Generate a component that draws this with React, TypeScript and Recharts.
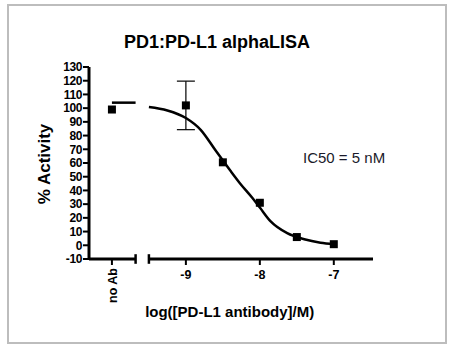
import {
  ComposedChart,
  ErrorBar,
  Line,
  ReferenceLine,
  Scatter,
  XAxis,
  YAxis,
} from "recharts";

const FONT = "'Liberation Sans', Arial, sans-serif";

// measured points: log[antibody] vs % activity
const pointLogConc = [-9, -8.5, -8, -7.5, -7];
const pointActivity = [102, 60.5, 31, 6, 0.8];
const pointSd = [17.7, null, null, null, null];

// "no Ab" control, drawn at a fake x position left of the axis break
const noAbX = -10;
const noAbActivity = 99;
const noAbTop = 104;

// fitted curve
const fitLogConc = [-9.5, -9.25, -9.0, -8.8, -8.6, -8.4, -8.27, -8.1, -8.0, -7.85, -7.63, -7.4, -7.18, -7.0];
const fitActivity = [100.8, 98.3, 92.8, 84.2, 69.3, 54.5, 45.3, 34.5, 27.5, 17.2, 8.8, 4.4, 1.9, 0.8];

const xDomain: [number, number] = [-10.31, -6.47];
const xTicks = [-10, -9, -8, -7];
const yTicks = [-10, 0, 10, 20, 30, 40, 50, 60, 70, 80, 90, 100, 110, 120, 130];
const axisSegments = [
  [-10.31, -9.68],
  [-9.5, -6.47],
];

const points = pointLogConc.map((x, i) => ({ x, y: pointActivity[i], err: pointSd[i] }));
const plainPoints = points.filter((p) => p.err == null);
const errPoints = points.filter((p) => p.err != null);
const noAbPoints = [{ x: noAbX, y: noAbActivity }];
const plateau = [
  { x: noAbX, y: noAbTop },
  { x: axisSegments[0][1], y: noAbTop },
];
const fit = fitLogConc.map((x, i) => ({ x, y: fitActivity[i] }));

const Square = (props: any) => (
  <rect x={props.cx - 4} y={props.cy - 4} width={8} height={8} fill="#000" />
);

const XTick = (props: any) => {
  const { x, y, payload } = props;
  if (payload.value === noAbX) {
    return (
      <text
        transform={`translate(${x + 5.5},${y + 1}) rotate(-90)`}
        textAnchor="end"
        fontSize={12.5}
        fontWeight="bold"
        fontFamily={FONT}
        fill="#000"
      >
        no Ab
      </text>
    );
  }
  return (
    <text x={x} y={y + 12} textAnchor="middle" fontSize={12.5} fontWeight="bold" fontFamily={FONT} fill="#000">
      {payload.value}
    </text>
  );
};

const YTick = (props: any) => {
  const { x, y, payload } = props;
  return (
    <text
      x={x + 1}
      y={y + 4.3}
      textAnchor="end"
      fontSize={12}
      fontWeight="bold"
      fontFamily={FONT}
      fill="#000"
      letterSpacing={-0.4}
    >
      {payload.value}
    </text>
  );
};

export default function App() {
  return (
    <div style={{ position: "absolute", left: 0, top: 0, width: 453, height: 352, background: "#fff" }}>
      <div
        style={{
          position: "absolute",
          left: 7,
          top: 4,
          width: 440,
          height: 340,
          boxSizing: "border-box",
          border: "2px solid #bdbdbd",
        }}
      />
      <div style={{ position: "absolute", left: 0, top: 0 }}>
        <ComposedChart width={453} height={352} margin={{ top: 67, right: 80, bottom: 63, left: 29 }}>
          <XAxis
            type="number"
            dataKey="x"
            domain={xDomain}
            ticks={xTicks}
            allowDataOverflow
            axisLine={false}
            tickLine={{ stroke: "#000", strokeWidth: 2 }}
            tickSize={6}
            tickMargin={2}
            height={30}
            tick={<XTick />}
          />
          <YAxis
            type="number"
            dataKey="y"
            domain={[-10, 130]}
            ticks={yTicks}
            interval={0}
            width={60}
            axisLine={{ stroke: "#000", strokeWidth: 3 }}
            tickLine={{ stroke: "#000", strokeWidth: 2 }}
            tickSize={6}
            tick={<YTick />}
          />
          {axisSegments.map(([a, b], i) => (
            <ReferenceLine
              key={`seg${i}`}
              segment={[
                { x: a, y: -10 },
                { x: b, y: -10 },
              ]}
              stroke="#000"
              strokeWidth={3}
              ifOverflow="visible"
            />
          ))}
          {[axisSegments[0][1], axisSegments[1][0]].map((x, i) => (
            <ReferenceLine
              key={`cap${i}`}
              segment={[
                { x, y: -13.5 },
                { x, y: -6.5 },
              ]}
              stroke="#000"
              strokeWidth={2.5}
              ifOverflow="visible"
            />
          ))}
          <Line data={plateau} dataKey="y" type="linear" stroke="#000" strokeWidth={2.5} dot={false} isAnimationActive={false} />
          <Line data={fit} dataKey="y" type="monotone" stroke="#000" strokeWidth={2.5} dot={false} isAnimationActive={false} />
          <Scatter data={errPoints} dataKey="y" shape={<Square />} isAnimationActive={false}>
            <ErrorBar dataKey="err" direction="y" width={9} stroke="#000" strokeWidth={1.2} />
          </Scatter>
          <Scatter data={plainPoints} dataKey="y" shape={<Square />} isAnimationActive={false} />
          <Scatter data={noAbPoints} dataKey="y" shape={<Square />} isAnimationActive={false} />
        </ComposedChart>
      </div>
      <svg width={453} height={352} style={{ position: "absolute", left: 0, top: 0, pointerEvents: "none" }}>
        <text x={217} y={47.5} textAnchor="middle" fontSize={18} fontWeight="bold" fontFamily={FONT} fill="#000">
          PD1:PD-L1 alphaLISA
        </text>
        <text
          transform="translate(49.5,164) rotate(-90)"
          textAnchor="middle"
          fontSize={17}
          fontWeight="bold"
          fontFamily={FONT}
          fill="#000"
        >
          % Activity
        </text>
        <text x={229.7} y={317} textAnchor="middle" fontSize={15} fontWeight="bold" fontFamily={FONT} fill="#000">
          log([PD-L1 antibody]/M)
        </text>
        <text x={303} y={163} fontSize={15} fontFamily={FONT} fill="#1a1a2a">
          IC50 = 5 nM
        </text>
      </svg>
    </div>
  );
}
